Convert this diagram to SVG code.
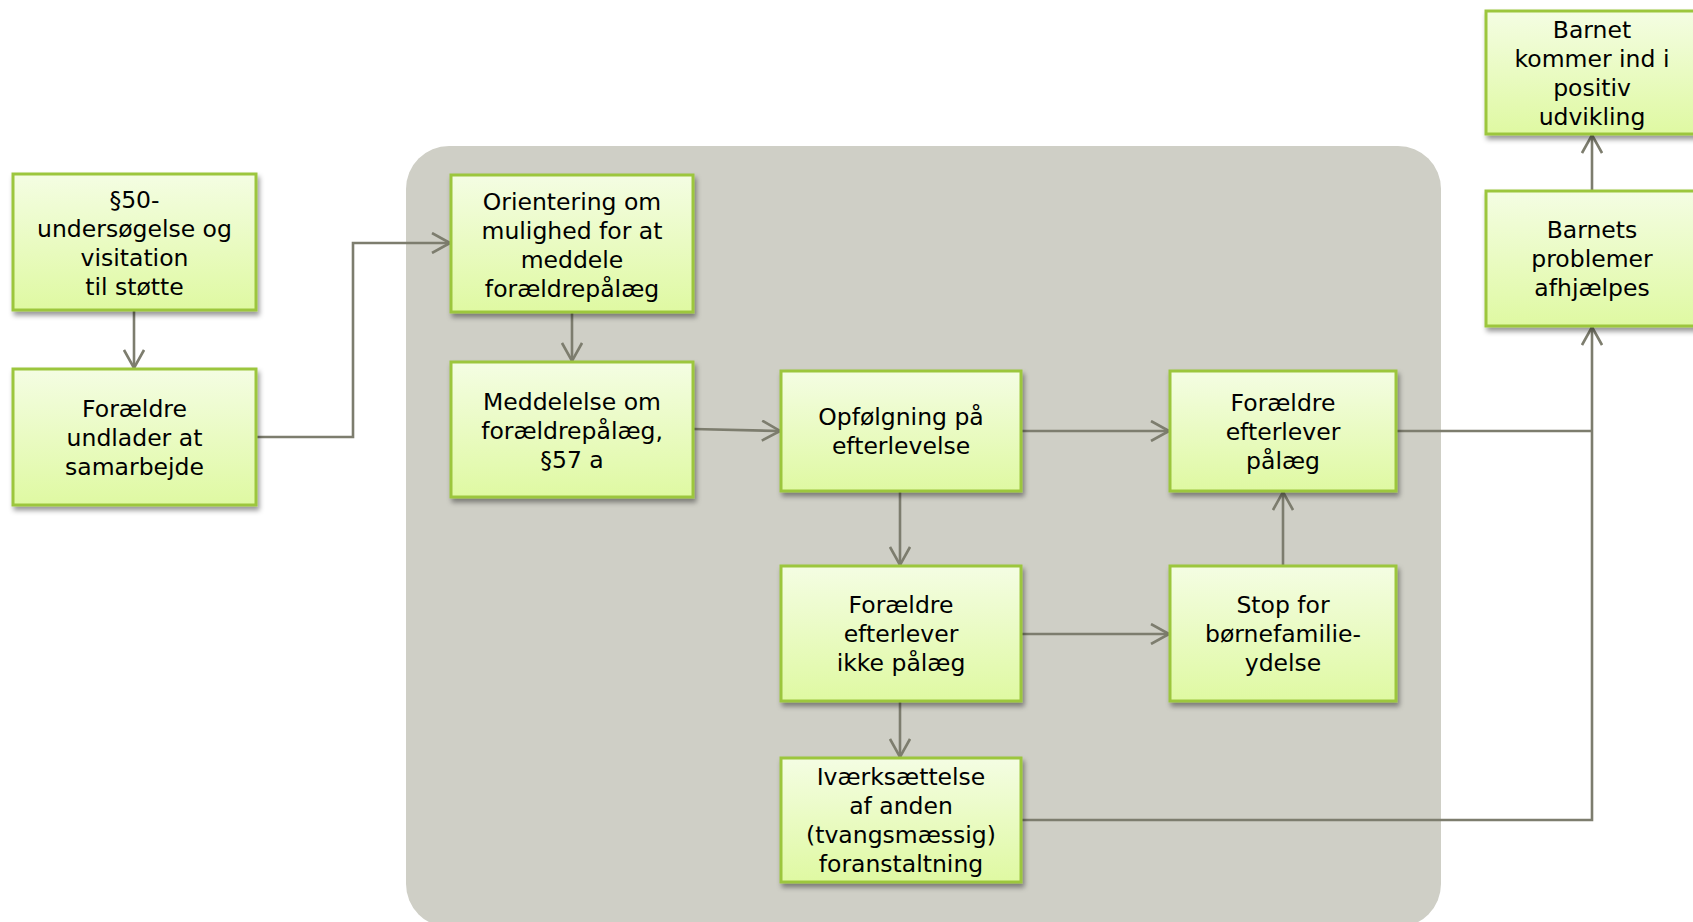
<svg xmlns="http://www.w3.org/2000/svg" width="1693" height="922" viewBox="0 0 1693 922">
<defs>
<linearGradient id="boxfill" x1="0" y1="0" x2="0" y2="1">
<stop offset="0" stop-color="#f4fde3"/>
<stop offset="1" stop-color="#dff9a2"/>
</linearGradient>
<filter id="shadow" x="-10%" y="-10%" width="125%" height="130%">
<feDropShadow dx="2" dy="4" stdDeviation="2.5" flood-color="#000" flood-opacity="0.4"/>
</filter>
<marker id="arr" viewBox="0 0 20 22" refX="19" refY="11" markerWidth="20" markerHeight="22" markerUnits="userSpaceOnUse" orient="auto">
<path d="M1,1 L19,11 L1,21" fill="none" stroke="#7d7d6e" stroke-width="2.6"/>
</marker>
<style>
.box{fill:url(#boxfill);stroke:#9cc63c;stroke-width:3;filter:url(#shadow);}
.t{font-family:"DejaVu Sans","Verdana",sans-serif;font-size:23.5px;fill:#000;text-anchor:middle;}
.c{fill:none;stroke:#7d7d6e;stroke-width:2.6;}
.ca{fill:none;stroke:#7d7d6e;stroke-width:2.6;marker-end:url(#arr);}
</style>
</defs>
<rect x="0" y="0" width="1693" height="922" fill="#ffffff"/>
<rect id="panel" x="406" y="146" width="1035" height="781" rx="43" ry="43" fill="#cfcfc6"/>

<g id="connectors">
<path class="ca" d="M134,310 L134,368"/>
<path class="ca" d="M256,437 L353,437 L353,243 L450,243"/>
<path class="ca" d="M572,312 L572,361"/>
<path class="ca" d="M693,429 L780,431"/>
<path class="ca" d="M1021,431 L1169,431"/>
<path class="ca" d="M900,491 L900,565"/>
<path class="ca" d="M1021,634 L1169,634"/>
<path class="ca" d="M1283,566 L1283,492"/>
<path class="ca" d="M900,701 L900,757"/>
<path class="c" d="M1396,431 L1592,431"/>
<path class="ca" d="M1021,820 L1592,820 L1592,327"/>
<path class="ca" d="M1592,191 L1592,135"/>
</g>

<g id="n1"><rect class="box" x="13" y="174" width="243" height="136"/>
<text class="t"><tspan x="134.5" y="207.5">§50-</tspan><tspan x="134.5" y="236.5">undersøgelse og</tspan><tspan x="134.5" y="265.5">visitation</tspan><tspan x="134.5" y="294.5">til støtte</tspan></text></g>

<g id="n2"><rect class="box" x="13" y="369" width="243" height="136"/>
<text class="t"><tspan x="134.5" y="417">Forældre</tspan><tspan x="134.5" y="446">undlader at</tspan><tspan x="134.5" y="475">samarbejde</tspan></text></g>

<g id="n3"><rect class="box" x="451" y="175" width="242" height="137"/>
<text class="t"><tspan x="572" y="209.5">Orientering om</tspan><tspan x="572" y="238.5">mulighed for at</tspan><tspan x="572" y="267.5">meddele</tspan><tspan x="572" y="296.5">forældrepålæg</tspan></text></g>

<g id="n4"><rect class="box" x="451" y="362" width="242" height="135"/>
<text class="t"><tspan x="572" y="409.5">Meddelelse om</tspan><tspan x="572" y="438.5">forældrepålæg,</tspan><tspan x="572" y="467.5">§57 a</tspan></text></g>

<g id="n5"><rect class="box" x="781" y="371" width="240" height="120"/>
<text class="t"><tspan x="901" y="425">Opfølgning på</tspan><tspan x="901" y="454">efterlevelse</tspan></text></g>

<g id="n6"><rect class="box" x="1170" y="371" width="226" height="120"/>
<text class="t"><tspan x="1283" y="410.5">Forældre</tspan><tspan x="1283" y="439.5">efterlever</tspan><tspan x="1283" y="468.5">pålæg</tspan></text></g>

<g id="n7"><rect class="box" x="781" y="566" width="240" height="135"/>
<text class="t"><tspan x="901" y="613">Forældre</tspan><tspan x="901" y="642">efterlever</tspan><tspan x="901" y="671">ikke pålæg</tspan></text></g>

<g id="n8"><rect class="box" x="1170" y="566" width="226" height="135"/>
<text class="t"><tspan x="1283" y="613">Stop for</tspan><tspan x="1283" y="642">børnefamilie-</tspan><tspan x="1283" y="671">ydelse</tspan></text></g>

<g id="n9"><rect class="box" x="781" y="758" width="240" height="124"/>
<text class="t"><tspan x="901" y="785">Iværksættelse</tspan><tspan x="901" y="814">af anden</tspan><tspan x="901" y="843">(tvangsmæssig)</tspan><tspan x="901" y="872">foranstaltning</tspan></text></g>

<g id="n10"><rect class="box" x="1486" y="191" width="220" height="135"/>
<text class="t"><tspan x="1592" y="238">Barnets</tspan><tspan x="1592" y="267">problemer</tspan><tspan x="1592" y="296">afhjælpes</tspan></text></g>

<g id="n11"><rect class="box" x="1486" y="11" width="220" height="123"/>
<text class="t"><tspan x="1592" y="37.5">Barnet</tspan><tspan x="1592" y="66.5">kommer ind i</tspan><tspan x="1592" y="95.5">positiv</tspan><tspan x="1592" y="124.5">udvikling</tspan></text></g>
</svg>
